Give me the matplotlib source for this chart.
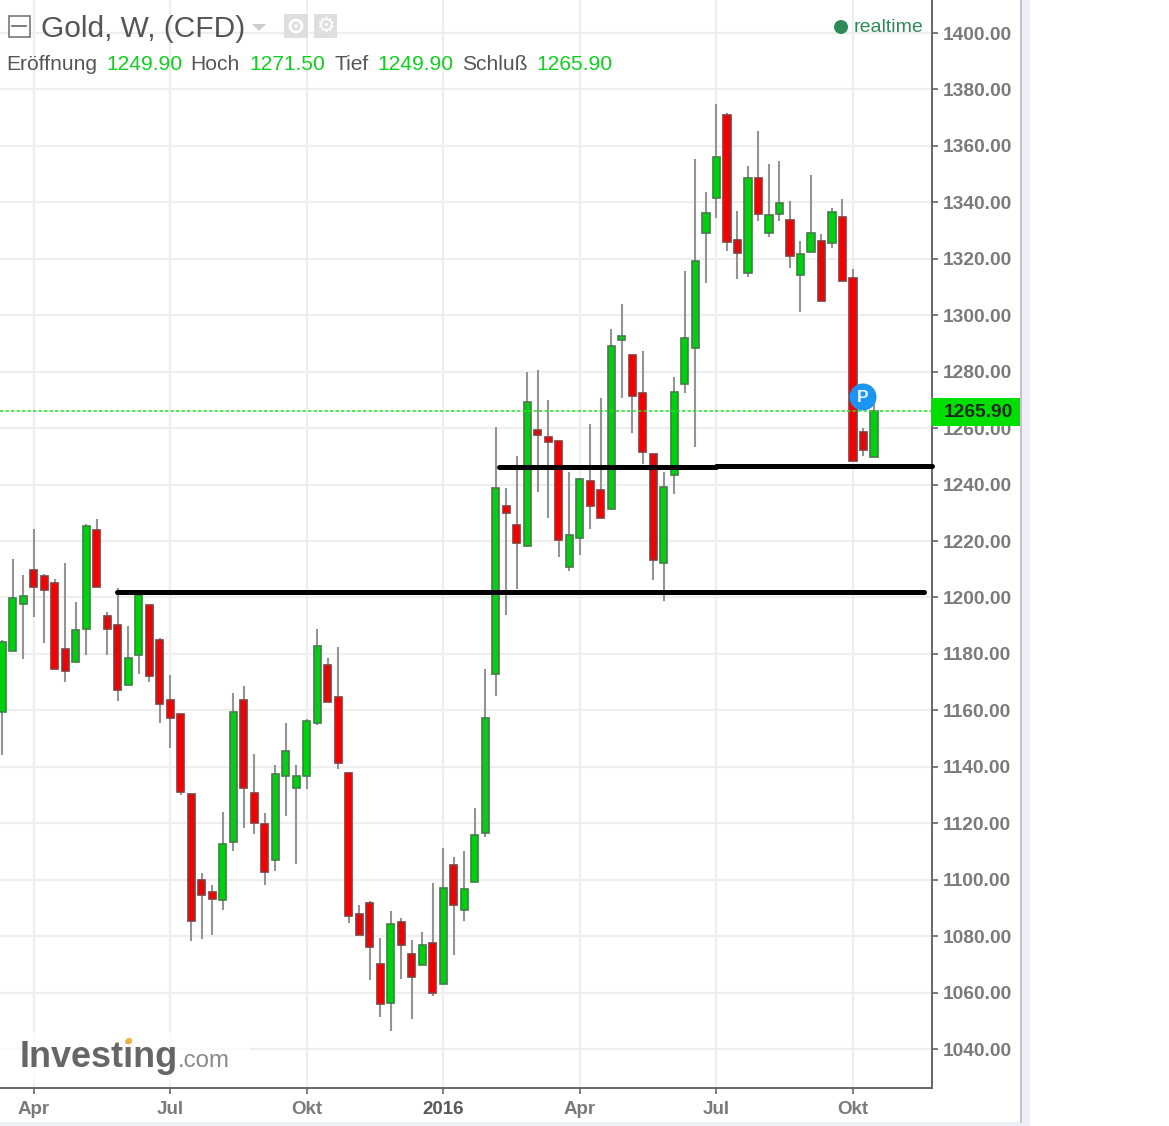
import matplotlib
matplotlib.use("Agg")
import matplotlib.pyplot as plt
from matplotlib.patches import Rectangle, Circle

plt.rcParams["font.family"] = ["Liberation Sans", "DejaVu Sans"]

# weekly candles
opens = [1159.3, 1180.9, 1197.6, 1209.6, 1207.7, 1205.3, 1181.7, 1177.2, 1189.0, 1223.9,
         1193.5, 1190.4, 1169.1, 1179.7, 1197.2, 1184.8, 1163.6, 1158.7, 1130.2, 1099.8,
         1095.5, 1092.9, 1113.3, 1163.6, 1130.8, 1119.7, 1107.1, 1136.9, 1132.4, 1136.9,
         1155.6, 1176.2, 1164.9, 1137.7, 1088.0, 1091.8, 1070.1, 1056.3, 1085.0, 1073.7,
         1069.9, 1077.4, 1063.1, 1105.3, 1089.1, 1099.1, 1116.5, 1172.9, 1232.5, 1225.7,
         1218.2, 1259.4, 1257.0, 1255.5, 1210.7, 1221.2, 1241.3, 1238.1, 1231.2, 1291.2,
         1285.8, 1272.3, 1251.0, 1212.1, 1243.5, 1275.8, 1288.3, 1329.0, 1341.5, 1370.9,
         1326.8, 1314.8, 1348.5, 1329.0, 1335.9, 1333.6, 1314.2, 1322.3, 1326.2, 1325.5,
         1334.8, 1313.1, 1258.6, 1249.9]
closes = [1184.1, 1199.7, 1200.4, 1203.8, 1202.6, 1174.7, 1174.0, 1188.4, 1225.2, 1203.8,
          1188.9, 1167.2, 1178.5, 1200.8, 1172.2, 1162.3, 1157.3, 1131.1, 1085.4, 1094.5,
          1093.3, 1112.8, 1159.4, 1132.4, 1120.2, 1102.8, 1137.6, 1145.7, 1136.9, 1156.3,
          1182.9, 1162.9, 1141.2, 1087.1, 1080.5, 1076.1, 1055.8, 1084.2, 1076.7, 1065.6,
          1076.7, 1059.9, 1097.2, 1090.9, 1096.7, 1115.9, 1157.4, 1238.7, 1230.0, 1219.3,
          1269.2, 1257.7, 1255.2, 1220.5, 1222.0, 1241.9, 1232.3, 1228.0, 1289.1, 1292.6,
          1271.5, 1251.5, 1213.3, 1239.2, 1272.8, 1292.0, 1319.3, 1336.1, 1355.9, 1326.0,
          1322.2, 1348.5, 1335.9, 1335.4, 1339.6, 1321.1, 1321.8, 1329.2, 1304.9, 1336.7,
          1312.3, 1248.5, 1252.2, 1265.9]
highs = [1184.9, 1213.5, 1207.9, 1224.1, 1208.3, 1206.4, 1212.3, 1198.5, 1226.0, 1227.8,
         1194.8, 1203.5, 1189.9, 1202.8, 1197.2, 1185.5, 1172.5, 1158.7, 1130.2, 1102.4,
         1098.1, 1124.1, 1166.3, 1168.7, 1144.7, 1123.5, 1140.8, 1155.7, 1140.8, 1156.9,
         1188.7, 1178.5, 1182.5, 1138.3, 1091.2, 1092.3, 1079.3, 1088.9, 1086.3, 1078.7,
         1081.3, 1098.7, 1111.1, 1107.9, 1110.0, 1125.3, 1174.5, 1260.5, 1238.9, 1250.0,
         1279.9, 1280.6, 1270.0, 1255.5, 1244.5, 1242.5, 1261.4, 1270.7, 1295.3, 1304.0,
         1285.8, 1287.2, 1251.0, 1244.4, 1278.0, 1315.7, 1355.3, 1343.8, 1374.7, 1371.5,
         1336.9, 1352.9, 1365.4, 1353.6, 1354.8, 1340.6, 1326.4, 1349.8, 1328.8, 1338.1,
         1341.3, 1316.4, 1260.0, 1271.5]
lows = [1144.1, 1180.9, 1178.3, 1193.2, 1183.7, 1174.7, 1170.1, 1177.2, 1179.6, 1203.8,
        1179.6, 1163.4, 1169.1, 1172.8, 1170.1, 1155.4, 1146.5, 1130.0, 1078.3, 1079.1,
        1080.4, 1089.4, 1110.1, 1118.2, 1116.1, 1098.3, 1103.2, 1122.5, 1105.7, 1132.3,
        1154.8, 1162.9, 1139.4, 1084.5, 1080.5, 1064.3, 1051.3, 1046.3, 1064.9, 1050.7,
        1069.9, 1058.8, 1063.1, 1073.5, 1085.4, 1099.1, 1115.0, 1165.2, 1193.7, 1203.1,
        1218.2, 1237.3, 1228.0, 1214.3, 1209.5, 1215.0, 1224.2, 1228.0, 1231.2, 1270.7,
        1258.4, 1247.3, 1206.2, 1198.8, 1236.5, 1272.5, 1253.4, 1311.6, 1334.4, 1322.8,
        1312.8, 1313.4, 1333.3, 1327.8, 1333.3, 1316.6, 1301.0, 1322.3, 1304.9, 1324.0,
        1312.3, 1248.5, 1250.2, 1249.9]

y_ticks = [1040, 1060, 1080, 1100, 1120, 1140, 1160, 1180, 1200, 1220, 1240, 1260,
           1280, 1300, 1320, 1340, 1360, 1380, 1400]
x_ticks = [3, 16, 29, 42, 55, 68, 81]
x_labels = ["Apr", "Jul", "Okt", "2016", "Apr", "Jul", "Okt"]

last_close = 1265.90
# hand drawn support lines: (x from, x to, price)
support_lines = [(10.9, 87.8, 1201.9), (47.3, 68.0, 1246.2), (68.0, 88.5, 1246.6)]

W, H = 1169, 1126
fig = plt.figure(figsize=(W / 100, H / 100), dpi=100, facecolor="white")

# main chart, right edge at x=932 and bottom at y=1088 in pixels
ax = fig.add_axes([0, 1 - 1088 / H, 932 / W, 1088 / H])
ax.set_xlim(-0.22, 88.54)
ax.set_ylim(1026.2, 1411.7)
ax.grid(True, color="#eeeeee", lw=1.6)
ax.set_axisbelow(True)

for s in ["top", "left"]:
    ax.spines[s].set_visible(False)
for s in ["right", "bottom"]:
    ax.spines[s].set_color("#666666")
    ax.spines[s].set_linewidth(1.4)

ax.yaxis.tick_right()
ax.set_yticks(y_ticks)
ax.set_yticklabels(["%.2f" % v for v in y_ticks], fontsize=13.8, fontweight="bold", color="#7a7a7a")
ax.set_xticks(x_ticks)
ax.set_xticklabels(x_labels, fontsize=13.5, fontweight="bold", color="#7a7a7a")
ax.get_xticklabels()[3].set_color("#5a5a5a")
ax.tick_params(axis="y", length=4, width=1.2, color="#666666", pad=4)
ax.tick_params(axis="x", length=4, width=1.2, color="#666666", pad=5)

# candles
idx = list(range(len(opens)))
bottoms = [min(o, c) for o, c in zip(opens, closes)]
heights = [abs(c - o) for o, c in zip(opens, closes)]
fills = ["#00d010" if c >= o else "#f40000" for o, c in zip(opens, closes)]
edges = ["#3f7f45" if c >= o else "#8a3a3a" for o, c in zip(opens, closes)]
ax.vlines(idx, lows, highs, color="#949494", lw=1.5, zorder=2)
ax.bar(idx, heights, bottom=bottoms, width=0.7, color=fills, edgecolor=edges, linewidth=1.2, zorder=3)

ax.axhline(last_close, color="#22e022", lw=1.1, ls=(0, (2.2, 1.4)), zorder=4)

for x0, x1, price in support_lines:
    ax.plot([x0, x1], [price, price], color="black", lw=3.6, solid_capstyle="round", zorder=5, clip_on=False)

# everything that is not data goes on a pixel overlay
ov = fig.add_axes([0, 0, 1, 1], facecolor="none")
ov.set_xlim(0, W)
ov.set_ylim(H, 0)
ov.axis("off")

# right panel and bottom strip
ov.add_patch(Rectangle((1021, 0), 9, H, color="#eff0f5", lw=0))
ov.plot([1020.5, 1020.5], [0, 1122], color="#c4c4c4", lw=1.4)
ov.add_patch(Rectangle((0, 1122), 1030, 4, color="#eff0f5", lw=0))

# price tag
ov.add_patch(Rectangle((931, 398), 89, 28, color="#00e000", lw=0, zorder=3))
ov.text(978, 412.5, "1265.90", fontsize=13.8, fontweight="bold", color="#1c2a1c", ha="center", va="center", zorder=4)

# P marker
ov.add_patch(Circle((863, 397), 13.5, color="#1c94f2", lw=0, zorder=6))
ov.text(863, 397.5, "P", fontsize=12.5, fontweight="bold", color="#e8f4ff", ha="center", va="center", zorder=7)

# title row
ov.add_patch(Rectangle((8.5, 15.5), 21, 21, fc="white", ec="#777777", lw=1.2, zorder=3))
ov.plot([12, 26], [26, 26], color="#666666", lw=1.2, zorder=4)
ov.text(41, 37, "Gold, W, (CFD)", fontsize=21.5, color="#555555", ha="left", va="baseline")
ov.fill([252, 266, 259], [24, 24, 31], color="#cccccc", lw=0)
ov.add_patch(Rectangle((284, 14), 24, 24, color="#dedede", lw=0))
ov.add_patch(Circle((296, 26), 6, fc="none", ec="white", lw=2))
ov.add_patch(Circle((296, 26), 1.8, color="white", lw=0))
ov.add_patch(Rectangle((314, 14), 23, 24, color="#dedede", lw=0))
ov.text(325.5, 26, "\u2699", fontsize=15, color="white", ha="center", va="center", family="DejaVu Sans")

# OHLC row
ohlc_labels = [("Eröffnung", 6.5), ("Hoch", 190.5), ("Tief", 334.5), ("Schluß", 462.5)]
ohlc_values = [("1249.90", 106.5), ("1271.50", 249.5), ("1249.90", 377.5), ("1265.90", 536)]
for txt, px in ohlc_labels:
    ov.text(px, 70, txt, fontsize=15.1, color="#555555", ha="left", va="baseline")
for txt, px in ohlc_values:
    ov.text(px, 70, txt, fontsize=15.1, color="#0fcf1f", ha="left", va="baseline")

# realtime marker
ov.add_patch(Circle((841, 27), 7, color="#2e8b57", lw=0))
ov.text(854, 32, "realtime", fontsize=14, color="#2e8b57", ha="left", va="baseline")

# logo
ov.add_patch(Rectangle((0, 1032), 250, 52, color="white", alpha=0.75, lw=0))
ov.text(20, 1067, "Investing", fontsize=25.9, fontweight="bold", color="#666666", ha="left", va="baseline")
ov.text(178, 1067, ".com", fontsize=17.3, color="#8a8a8a", ha="left", va="baseline")
ov.add_patch(Circle((129, 1041), 3.2, color="#f4b13f", lw=0, zorder=5))

fig.savefig("out.png", dpi=100, facecolor="white")
plt.close()
